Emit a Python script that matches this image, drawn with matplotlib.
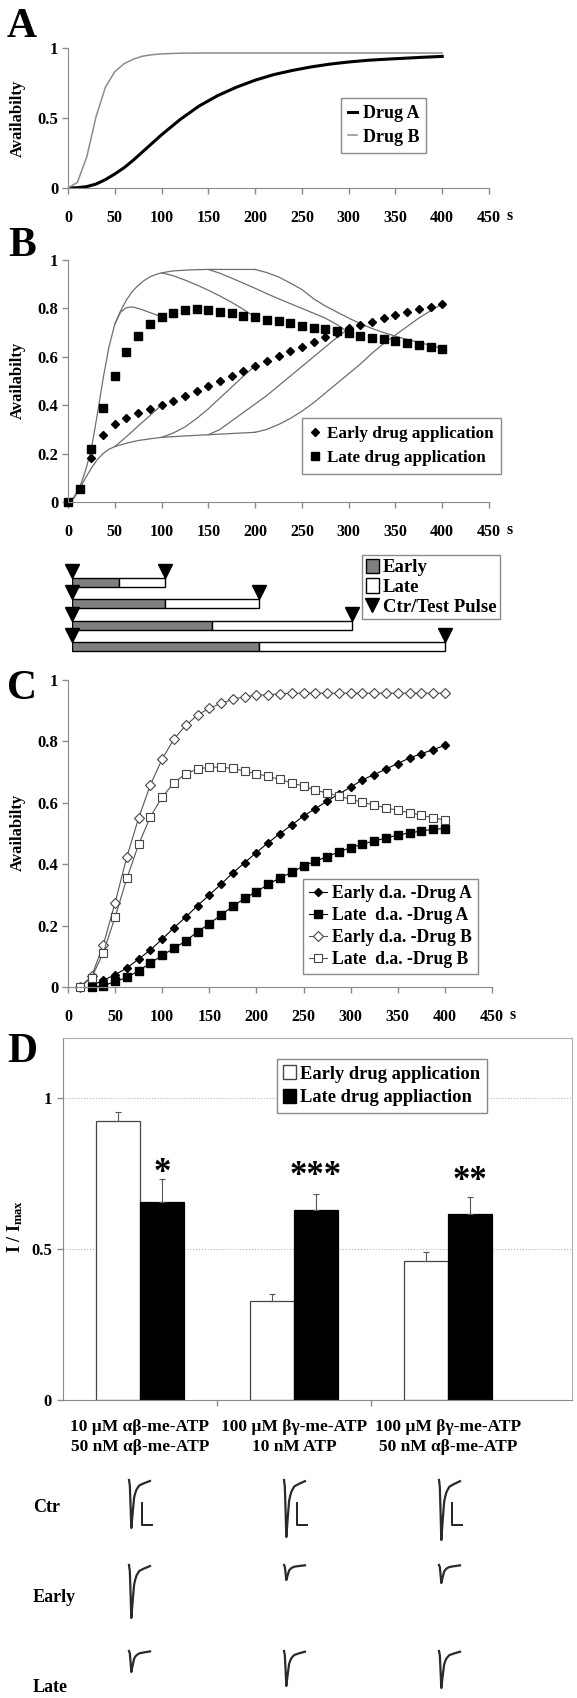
import numpy as np
import matplotlib
matplotlib.use("Agg")
import matplotlib.pyplot as plt
from matplotlib.patches import Patch, Rectangle
from matplotlib.lines import Line2D

plt.rcParams['font.family'] = ['Liberation Serif', 'DejaVu Serif']
plt.rcParams['font.weight'] = 'bold'
plt.rcParams['mathtext.fontset'] = 'custom'
plt.rcParams['mathtext.rm'] = 'Liberation Serif:bold'
plt.rcParams['mathtext.bf'] = 'Liberation Serif:bold'
plt.rcParams['mathtext.it'] = 'Liberation Serif:bold:italic'

W, H = 577, 1698
GRAY = '#8a8a8a'

# ---------------- data ----------------
# A: availability of the two drugs
a_t = [0, 10, 20, 30, 40, 50, 60, 70, 80, 90, 100, 120, 140, 160, 180, 200,
       220, 240, 260, 280, 300, 320, 340, 360, 380, 400]
drug_a = [0, 0.002, 0.01, 0.028, 0.06, 0.1, 0.145, 0.2, 0.26, 0.32, 0.38,
          0.49, 0.585, 0.66, 0.72, 0.77, 0.81, 0.84, 0.865, 0.885, 0.9,
          0.912, 0.92, 0.927, 0.934, 0.94]
drug_b = [0, 0.04, 0.22, 0.51, 0.72, 0.831, 0.888, 0.921, 0.942, 0.952, 0.958,
          0.963, 0.964, 0.964, 0.964, 0.964, 0.964, 0.964, 0.964, 0.964, 0.964,
          0.964, 0.964, 0.964, 0.964, 0.964]

# B: end-point availability, early vs late application
b_t = np.arange(0, 400.1, 12.5)
b_early = [0, 0.055, 0.183, 0.276, 0.324, 0.349, 0.368, 0.383, 0.40, 0.418, 0.439,
           0.458, 0.48, 0.499, 0.52, 0.541, 0.563, 0.583, 0.604, 0.625, 0.641,
           0.661, 0.68, 0.70, 0.717, 0.731, 0.745, 0.76, 0.772, 0.786, 0.797,
           0.807, 0.818]
b_late = [0, 0.055, 0.218, 0.39, 0.521, 0.62, 0.687, 0.735, 0.763, 0.782, 0.793,
          0.796, 0.794, 0.786, 0.779, 0.77, 0.763, 0.754, 0.748, 0.738, 0.728,
          0.72, 0.713, 0.706, 0.697, 0.687, 0.679, 0.672, 0.665, 0.658, 0.65,
          0.641, 0.634]

# B: thin time-course curves of the 100/200/300/400 s protocols
rise_t = [0, 6.25, 12.5, 18.75, 25, 31.25, 37.5, 43.75, 50, 56.25, 62.5, 68.75,
          75, 81.25, 87.5, 93.75, 100, 112.5, 125, 137.5, 150, 175, 200]
rise_v = [0, 0.02, 0.06, 0.13, 0.22, 0.36, 0.51, 0.64, 0.735, 0.79, 0.835, 0.87,
          0.895, 0.915, 0.93, 0.94, 0.947, 0.955, 0.958, 0.96, 0.961, 0.961, 0.961]
late100_t = [50, 56.25, 62.5, 68.75, 75, 81.25, 87.5, 93.75, 100]
late100_v = [0.735, 0.785, 0.803, 0.806, 0.80, 0.792, 0.783, 0.774, 0.765]
late200_t = [100, 112.5, 125, 137.5, 150, 162.5, 175, 187.5, 200]
late200_v = [0.947, 0.935, 0.917, 0.897, 0.875, 0.851, 0.825, 0.796, 0.764]
late300_t = [150, 162.5, 175, 187.5, 200, 212.5, 225, 237.5, 250, 262.5, 275, 287.5, 300]
late300_v = [0.961, 0.945, 0.925, 0.904, 0.883, 0.861, 0.84, 0.82, 0.80, 0.78,
             0.76, 0.733, 0.70]
late400_t = [200, 212.5, 225, 237.5, 250, 262.5, 275, 287.5, 300, 312.5, 325,
             337.5, 350, 362.5, 375, 387.5, 400]
late400_v = [0.961, 0.948, 0.93, 0.905, 0.878, 0.84, 0.81, 0.785, 0.76, 0.737,
             0.717, 0.70, 0.685, 0.672, 0.66, 0.647, 0.634]
base_t = [0, 6.25, 12.5, 18.75, 25, 31.25, 37.5, 43.75, 50, 62.5, 75, 87.5, 100,
          125, 150, 175, 200]
base_v = [0, 0.015, 0.055, 0.1, 0.14, 0.175, 0.2, 0.218, 0.229, 0.243, 0.254,
          0.261, 0.267, 0.273, 0.278, 0.283, 0.288]
early100_t = [50, 62.5, 75, 87.5, 100]
early100_v = [0.229, 0.27, 0.314, 0.357, 0.40]
early200_t = [100, 112.5, 125, 137.5, 150, 162.5, 175, 187.5, 200]
early200_v = [0.267, 0.285, 0.31, 0.345, 0.385, 0.43, 0.475, 0.52, 0.563]
early300_t = [150, 162.5, 175, 187.5, 200, 212.5, 225, 237.5, 250, 262.5, 275,
              287.5, 300]
early300_v = [0.278, 0.30, 0.335, 0.37, 0.405, 0.44, 0.48, 0.52, 0.56, 0.60, 0.64,
              0.68, 0.717]
early400_t = late400_t
early400_v = [0.288, 0.30, 0.32, 0.345, 0.375, 0.41, 0.45, 0.49, 0.53, 0.57,
              0.615, 0.655, 0.69, 0.725, 0.76, 0.79, 0.818]

# protocol scheme: total durations, early part is the first half
protocol_len = [100, 200, 300, 400]
early_len = [50, 100, 150, 200]

# C: simulated availability, drug A / drug B
c_t_open = np.arange(12.5, 400.1, 12.5)
c_t_fill = np.arange(25, 400.1, 12.5)
early_da_a = [0.005, 0.022, 0.04, 0.062, 0.091, 0.121, 0.156, 0.193, 0.228, 0.265,
              0.30, 0.335, 0.372, 0.405, 0.438, 0.47, 0.50, 0.528, 0.557, 0.581,
              0.605, 0.629, 0.651, 0.675, 0.692, 0.71, 0.728, 0.746, 0.76, 0.773,
              0.787]
late_da_a = [0, 0.004, 0.018, 0.031, 0.053, 0.078, 0.103, 0.126, 0.15, 0.18, 0.206,
             0.235, 0.263, 0.289, 0.311, 0.334, 0.356, 0.373, 0.395, 0.409, 0.425,
             0.44, 0.454, 0.465, 0.476, 0.485, 0.495, 0.502, 0.508, 0.514, 0.516]
early_da_b = [0, 0.035, 0.137, 0.275, 0.424, 0.551, 0.659, 0.743, 0.808, 0.852,
              0.886, 0.908, 0.924, 0.937, 0.946, 0.95, 0.952, 0.955, 0.957, 0.957,
              0.957, 0.957, 0.957, 0.957, 0.957, 0.957, 0.957, 0.957, 0.957, 0.957,
              0.957, 0.957]
late_da_b = [0, 0.03, 0.112, 0.228, 0.354, 0.465, 0.555, 0.619, 0.665, 0.695, 0.71,
             0.716, 0.716, 0.712, 0.703, 0.695, 0.686, 0.676, 0.665, 0.654, 0.641,
             0.632, 0.622, 0.611, 0.602, 0.592, 0.584, 0.575, 0.568, 0.56, 0.551,
             0.544]

# D: normalised currents
d_cats = ['10 µM αβ-me-ATP\n50 nM αβ-me-ATP',
          '100 µM βγ-me-ATP\n10 nM ATP',
          '100 µM βγ-me-ATP\n50 nM αβ-me-ATP']
d_early = [0.924, 0.329, 0.46]
d_early_err = [0.031, 0.023, 0.03]
d_late = [0.655, 0.631, 0.615]
d_late_err = [0.079, 0.051, 0.058]
d_stars = ['*', '***', '**']
d_star_y = [0.772, 0.762, 0.745]

# example current traces (relative shape) and amplitudes (px) per row/column
trace_t = [0, 0.04, 0.08, 0.11, 0.14, 0.186, 0.243, 0.3, 0.357, 0.43, 0.5, 0.6,
           0.714, 0.85, 1.0]
trace_v = [0, -0.12, -0.6, -1.0, -0.85, -0.63, -0.37, -0.27, -0.2, -0.15, -0.11,
           -0.09, -0.067, -0.045, -0.02]
trace_rows = ['Ctr', 'Early', 'Late']
trace_amp = [[48, 57, 60], [53, 15, 18], [21, 35, 37]]


# ---------------- drawing ----------------
def rect(l, t, r, b):
    return [l / W, 1 - b / H, (r - l) / W, (b - t) / H]


def curve_axes(box, yticks):
    ax = fig.add_axes(rect(*box))
    ax.set_xlim(0, 450)
    ax.set_ylim(0, 1)
    ax.set_xticks(range(0, 451, 50))
    ax.set_yticks(yticks)
    ax.set_yticklabels([f'{v:g}' for v in yticks])
    ax.spines[['top', 'right']].set_visible(False)
    ax.spines[['left', 'bottom']].set_color(GRAY)
    ax.tick_params(axis='x', length=4, width=1, color=GRAY, pad=11.5, labelsize=11.5)
    ax.tick_params(axis='y', length=4, width=1, color=GRAY, pad=3, labelsize=12)
    ax.annotate('s', xy=(1, 0), xycoords='axes fraction', xytext=(15, -20.5),
                textcoords='offset points', ha='center', va='center', fontsize=11.5)
    return ax


def leg(ax, handles, labels, l, t, size=12, **kw):
    lg = ax.legend(handles, labels, loc='upper left',
                   bbox_to_anchor=(l / W, 1 - t / H), bbox_transform=fig.transFigure,
                   fancybox=False, framealpha=1, edgecolor=GRAY, borderaxespad=0,
                   prop={'weight': 'bold', 'size': size}, **kw)
    lg.get_frame().set_linewidth(1.0)
    return lg


fig = plt.figure(figsize=(W / 100, H / 100), dpi=100)

for letter, y in [('A', 27), ('B', 246), ('C', 689), ('D', 1052)]:
    fig.text(22 / W, 1 - y / H, letter, fontsize=30, ha='center', va='center')
for y, txt in [(118, 'Availabilty'), (380, 'Availabilty'), (832, 'Availabilty')]:
    fig.text(18 / W, 1 - y / H, txt, rotation=90, fontsize=12, ha='center', va='center')

# A
ax = curve_axes((68, 48, 489, 188), [0, 0.5, 1])
la, = ax.plot(a_t, drug_a, color='black', lw=2.2)
lb, = ax.plot(a_t, drug_b, color='#8c8c8c', lw=1.1)
leg(ax, [la, lb], ['Drug A', 'Drug B'], 341, 98, size=13, handlelength=0.5,
    handletextpad=0.3, labelspacing=0.35, borderpad=0.4)

# B
ax = curve_axes((68, 260, 489, 502), [0, 0.2, 0.4, 0.6, 0.8, 1])
for tt, vv in [(rise_t, rise_v), (late100_t, late100_v), (late200_t, late200_v),
               (late300_t, late300_v), (late400_t, late400_v), (base_t, base_v),
               (early100_t, early100_v), (early200_t, early200_v),
               (early300_t, early300_v), (early400_t, early400_v)]:
    ax.plot(tt, vv, color='#6e6e6e', lw=0.9)
me, = ax.plot(b_t, b_early, 'D', color='black', ms=4.2, ls='none', clip_on=False)
ml, = ax.plot(b_t, b_late, 's', color='black', ms=6.3, ls='none', clip_on=False)
leg(ax, [me, ml], ['Early drug application', 'Late drug application'], 302, 418,
    size=12.3, handlelength=0.6, handletextpad=0.4, labelspacing=0.5, borderpad=0.45)

# protocol scheme
ax = fig.add_axes(rect(72, 550, 492, 660))
ax.set_xlim(0, 450)
ax.set_ylim(660, 550)
ax.axis('off')
for i, (T, E) in enumerate(zip(protocol_len, early_len)):
    top = 578 + i * 21.4
    ax.add_patch(Rectangle((0, top), E, 9, facecolor='#7f7f7f', edgecolor='black', lw=1))
    ax.add_patch(Rectangle((E, top), T - E, 9, facecolor='white', edgecolor='black', lw=1))
    ax.plot([0, T], [top - 7, top - 7], 'v', color='black', ms=10, clip_on=False)
hs = [Patch(facecolor='#7f7f7f', edgecolor='black'),
      Patch(facecolor='white', edgecolor='black'),
      Line2D([], [], marker='v', color='black', ls='none', ms=10)]
leg(ax, hs, ['Early', 'Late', 'Ctr/Test Pulse'], 362, 555, size=13.5, handlelength=0.7,
    handleheight=0.8, handletextpad=0.2, labelspacing=0.1, borderpad=0.2)

# C
ax = curve_axes((68, 680, 492, 987), [0, 0.2, 0.4, 0.6, 0.8, 1])
c1, = ax.plot(c_t_fill, early_da_a, '-D', color='black', lw=0.8, ms=4.2, clip_on=False)
c2, = ax.plot(c_t_fill, late_da_a, '-s', color='black', lw=0.8, ms=5.5, clip_on=False)
c3, = ax.plot(c_t_open, early_da_b, '-D', color='#555555', mfc='white', mec='#444444',
              lw=0.8, ms=4.8, mew=0.8, clip_on=False)
c4, = ax.plot(c_t_open, late_da_b, '-s', color='#555555', mfc='white', mec='#444444',
              lw=0.8, ms=6, mew=0.8, clip_on=False)
leg(ax, [c1, c2, c3, c4], ['Early d.a. -Drug A', 'Late  d.a. -Drug A',
                           'Early d.a. -Drug B', 'Late  d.a. -Drug B'], 303, 879,
    size=12.7, handlelength=1.0, handletextpad=0.3, labelspacing=0.28, borderpad=0.35)

# D
ax = fig.add_axes(rect(63, 1038, 572, 1400))
x = np.arange(len(d_cats))
w = 0.287
ax.set_xlim(-0.5, -0.5 + 509 / 154)
ax.set_ylim(0, 1.2)
for yv in [0.5, 1.0]:
    ax.axhline(yv, color='#b5b5b5', lw=0.8, ls=':', zorder=0)
be = ax.bar(x - w / 2, d_early, w, color='white', edgecolor='#444444', lw=0.9)
bl = ax.bar(x + w / 2, d_late, w, color='black', edgecolor='black', lw=0.9)
ax.errorbar(x - w / 2, d_early, yerr=[[0] * 3, d_early_err], fmt='none',
            ecolor='#555555', elinewidth=0.8, capsize=2, capthick=0.8)
ax.errorbar(x + w / 2, d_late, yerr=[[0] * 3, d_late_err], fmt='none',
            ecolor='#555555', elinewidth=0.8, capsize=2, capthick=0.8)
for xi, sy, s in zip(x, d_star_y, d_stars):
    ax.text(xi + w / 2, sy - 0.075, s, ha='center', va='bottom', fontsize=25)
ax.set_yticks([0, 0.5, 1])
ax.set_yticklabels(['0', '0.5', '1'])
ax.set_xticks(x)
ax.set_xticklabels(d_cats, fontsize=12.5, linespacing=1.3)
ax.set_xticks([0.5, 1.5], minor=True)
ax.tick_params(axis='x', which='major', length=0, pad=14)
ax.tick_params(axis='x', which='minor', length=4, width=1, color=GRAY)
ax.tick_params(axis='y', length=4, width=1, color=GRAY, pad=4, labelsize=12)
ax.spines[['left', 'bottom']].set_color(GRAY)
ax.spines[['top', 'right']].set_color('#b0b0b0')
hs = [Patch(facecolor='white', edgecolor='#444444'), Patch(facecolor='black', edgecolor='black')]
leg(ax, hs, ['Early drug application', 'Late drug appliaction'], 277, 1059,
    size=13.3, handlelength=0.7, handleheight=0.75, handletextpad=0.2,
    labelspacing=0.35, borderpad=0.35)
fig.text(15 / W, 1 - 1226 / H, r'I / I$_{\mathrm{max}}$', rotation=90, fontsize=13,
         ha='center', va='center')

# example traces
ax = fig.add_axes([0, 0, 1, (H - 1460) / H])
ax.set_xlim(0, W)
ax.set_ylim(H, 1460)
ax.axis('off')
col_x = [129, 284, 439]
row_top = [1480, 1565, 1651]
row_lab = [1508, 1598, 1688]
for r, name in enumerate(trace_rows):
    ax.text(33, row_lab[r], name, fontsize=13, ha='left', va='center')
    for c in range(3):
        xs = col_x[c] + np.array(trace_t) * 21
        ys = row_top[r] - np.array(trace_v) * trace_amp[r][c]
        ax.plot(xs, ys, color='#2a2a2a', lw=1.6)
for c in range(3):
    x0 = col_x[c] + 13
    y0 = row_top[0] + 23
    ax.plot([x0, x0, x0 + 10], [y0, y0 + 22, y0 + 22], color='#222222', lw=1.4)

fig.savefig('out.png', dpi=100, facecolor='white')
